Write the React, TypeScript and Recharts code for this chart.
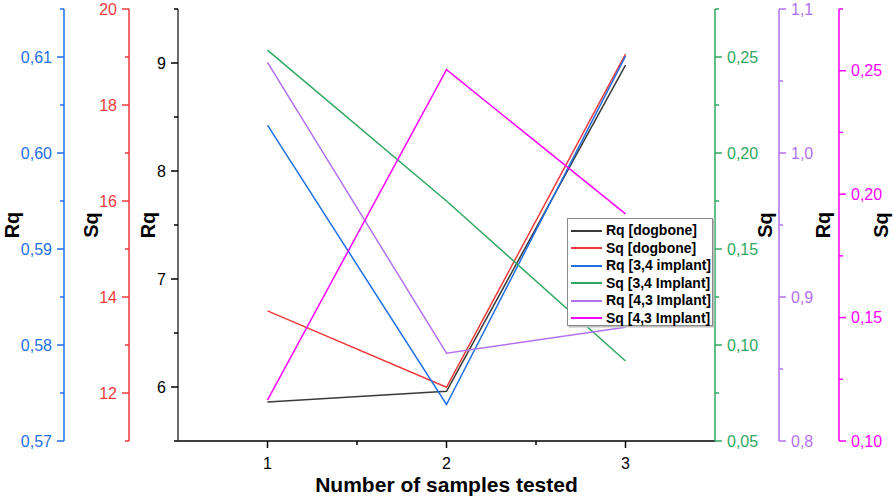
import React from "react";
import { LineChart, Line, XAxis, YAxis, Legend } from "recharts";

const samples = [1, 2, 3];
const rqDogbone = [5.86, 5.96, 8.98];
const sqDogbone = [13.71, 12.12, 19.06];
const rq34 = [0.6029, 0.5738, 0.6101];
const sq34 = [0.2536, 0.175, 0.0917];
const rq43 = [1.063, 0.861, 0.879];
const sq43 = [0.1166, 0.2504, 0.192];

const xMajor = [1, 2, 3];
const xMinor = [1.5, 2.5];
const blackMajor = [6, 7, 8, 9];
const blackMinor = [5.5, 6.5, 7.5, 8.5, 9.5];
const redMajor = [12, 14, 16, 18, 20];
const redMinor = [11, 13, 15, 17, 19];
const blueMajor = [0.57, 0.58, 0.59, 0.6, 0.61];
const blueMinor = [0.575, 0.585, 0.595, 0.605, 0.615];
const greenMajor = [0.05, 0.1, 0.15, 0.2, 0.25];
const greenMinor = [0.075, 0.125, 0.175, 0.225, 0.275];
const purpleMajor = [0.8, 0.9, 1.0, 1.1];
const purpleMinor = [0.85, 0.95, 1.05];
const magentaMajor = [0.1, 0.15, 0.2, 0.25];
const magentaMinor = [0.125, 0.175, 0.225, 0.275];

const C = {
  black: "#3a3a3a",
  red: "#ef3b3b",
  blue: "#1f6fe5",
  green: "#2fa862",
  purple: "#b271ee",
  magenta: "#ff00ff",
};

// axis ids are ordered so recharts stacks them inner -> outer
const series = [
  { key: "rqDog", name: "Rq [dogbone]", color: C.black, axis: "l1", values: rqDogbone },
  { key: "sqDog", name: "Sq [dogbone]", color: C.red, axis: "l2", values: sqDogbone },
  { key: "rq34", name: "Rq [3,4 implant]", color: C.blue, axis: "l3", values: rq34 },
  { key: "sq34", name: "Sq [3,4 Implant]", color: C.green, axis: "r1", values: sq34 },
  { key: "rq43", name: "Rq [4,3 Implant]", color: C.purple, axis: "r2", values: rq43 },
  { key: "sq43", name: "Sq [4,3 Implant]", color: C.magenta, axis: "r3", values: sq43 },
];

const data = samples.map((n, i) => {
  const row: Record<string, number> = { n };
  series.forEach((s) => (row[s.key] = s.values[i]));
  return row;
});

const FONT = "'Liberation Sans', Arial, sans-serif";
const isIn = (list: number[], v: number) => list.some((m) => Math.abs(m - v) < 1e-9);
const comma = (v: number, d: number) => v.toFixed(d).replace(".", ",");

const yTick = (side: "left" | "right", color: string, majors: number[], digits: number) => (props: any) => {
  const { x, y, payload } = props;
  const v = payload.value;
  const major = isIn(majors, v);
  const dir = side === "left" ? -1 : 1;
  return (
    <g>
      <line x1={x} x2={x + dir * (major ? 7 : 4)} y1={y} y2={y} stroke={color} strokeWidth={1.5} />
      {major && (
        <text
          x={x + dir * 12}
          y={y}
          dy="0.36em"
          textAnchor={side === "left" ? "end" : "start"}
          fill={color}
          fontSize={16}
          fontFamily={FONT}
        >
          {comma(v, digits)}
        </text>
      )}
    </g>
  );
};

const xTick = (props: any) => {
  const { x, y, payload } = props;
  const major = isIn(xMajor, payload.value);
  return (
    <g>
      <line x1={x} x2={x} y1={y} y2={y + (major ? 7 : 4)} stroke="#000" strokeWidth={1.5} />
      {major && (
        <text x={x} y={y + 28} textAnchor="middle" fill="#000" fontSize={16} fontFamily={FONT}>
          {payload.value}
        </text>
      )}
    </g>
  );
};

const axisTitle = (text: string, x: number) => (props: any) => {
  const vb = props.viewBox;
  const cy = vb.y + vb.height / 2;
  return (
    <text
      x={x}
      y={cy}
      transform={`rotate(-90, ${x}, ${cy})`}
      textAnchor="middle"
      dy="0.36em"
      fontSize={20}
      fontWeight="bold"
      fontFamily={FONT}
      fill="#000"
    >
      {text}
    </text>
  );
};

const LegendBox = () => (
  <div
    style={{
      width: 146,
      height: 108,
      background: "#fff",
      border: "1px solid #8a8a8a",
      boxShadow: "1.5px 1.5px 0 #bdbdbd",
      boxSizing: "border-box",
      padding: "3px 0 0 3px",
      fontFamily: FONT,
      fontWeight: "bold",
      fontSize: 14,
    }}
  >
    {series.map((s) => (
      <div key={s.key} style={{ display: "flex", alignItems: "center", height: 17.5 }}>
        <span
          style={{
            display: "inline-block",
            flexShrink: 0,
            width: 31,
            height: 0,
            borderTop: `2px solid ${s.color}`,
            marginRight: 4,
          }}
        />
        <span style={{ whiteSpace: "nowrap", lineHeight: "17px" }}>{s.name}</span>
      </div>
    ))}
  </div>
);

export default function App() {
  return (
    <div style={{ position: "absolute", left: 0, top: 0, background: "#fff" }}>
      <LineChart width={894} height={499} data={data} margin={{ top: 9, right: 0, bottom: 0, left: 0 }}>
        <XAxis
          dataKey="n"
          type="number"
          domain={[0.5, 3.5]}
          ticks={[...xMajor, ...xMinor]}
          interval={0}
          height={58}
          tickSize={0}
          tickMargin={0}
          tickLine={false}
          tick={xTick}
          axisLine={{ stroke: "#000", strokeWidth: 1.5 }}
          label={{
            value: "Number of samples tested",
            position: "insideBottom",
            offset: 7,
            fontSize: 21,
            fontWeight: "bold",
            fontFamily: FONT,
            fill: "#000",
          }}
        />
        <YAxis
          yAxisId="l1"
          orientation="left"
          type="number"
          domain={[5.5, 9.5]}
          ticks={[...blackMajor, ...blackMinor]}
          interval={0}
          width={49}
          tickSize={0}
          tickMargin={0}
          tickLine={false}
          tick={yTick("left", "#000", blackMajor, 0)}
          axisLine={{ stroke: C.black, strokeWidth: 1.5 }}
          label={axisTitle("Rq", 148)}
        />
        <YAxis
          yAxisId="l2"
          orientation="left"
          type="number"
          domain={[11, 20]}
          ticks={[...redMajor, ...redMinor]}
          interval={0}
          width={65}
          tickSize={0}
          tickMargin={0}
          tickLine={false}
          tick={yTick("left", C.red, redMajor, 0)}
          axisLine={{ stroke: C.red, strokeWidth: 1.5 }}
          label={axisTitle("Sq", 91)}
        />
        <YAxis
          yAxisId="l3"
          orientation="left"
          type="number"
          domain={[0.57, 0.615]}
          ticks={[...blueMajor, ...blueMinor]}
          interval={0}
          width={64}
          tickSize={0}
          tickMargin={0}
          tickLine={false}
          tick={yTick("left", C.blue, blueMajor, 2)}
          axisLine={{ stroke: C.blue, strokeWidth: 1.5 }}
          label={axisTitle("Rq", 12)}
        />
        <YAxis
          yAxisId="r1"
          orientation="right"
          type="number"
          domain={[0.05, 0.275]}
          ticks={[...greenMajor, ...greenMinor]}
          interval={0}
          width={64}
          tickSize={0}
          tickMargin={0}
          tickLine={false}
          tick={yTick("right", C.green, greenMajor, 2)}
          axisLine={{ stroke: C.green, strokeWidth: 1.5 }}
          label={axisTitle("Sq", 765)}
        />
        <YAxis
          yAxisId="r2"
          orientation="right"
          type="number"
          domain={[0.8, 1.1]}
          ticks={[...purpleMajor, ...purpleMinor]}
          interval={0}
          width={60}
          tickSize={0}
          tickMargin={0}
          tickLine={false}
          tick={yTick("right", C.purple, purpleMajor, 1)}
          axisLine={{ stroke: C.purple, strokeWidth: 1.5 }}
          label={axisTitle("Rq", 823)}
        />
        <YAxis
          yAxisId="r3"
          orientation="right"
          type="number"
          domain={[0.1, 0.275]}
          ticks={[...magentaMajor, ...magentaMinor]}
          interval={0}
          width={55}
          tickSize={0}
          tickMargin={0}
          tickLine={false}
          tick={yTick("right", C.magenta, magentaMajor, 2)}
          axisLine={{ stroke: C.magenta, strokeWidth: 1.5 }}
          label={axisTitle("Sq", 881)}
        />
        {series.map((s) => (
          <Line
            key={s.key}
            yAxisId={s.axis}
            dataKey={s.key}
            name={s.name}
            type="linear"
            stroke={s.color}
            strokeWidth={1.5}
            dot={false}
            activeDot={false}
            isAnimationActive={false}
          />
        ))}
        <Legend
          layout="vertical"
          align="center"
          verticalAlign="middle"
          content={() => <LegendBox />}
          wrapperStyle={{ position: "absolute", left: 567, top: 218, width: 146, height: 108 }}
        />
      </LineChart>
    </div>
  );
}
